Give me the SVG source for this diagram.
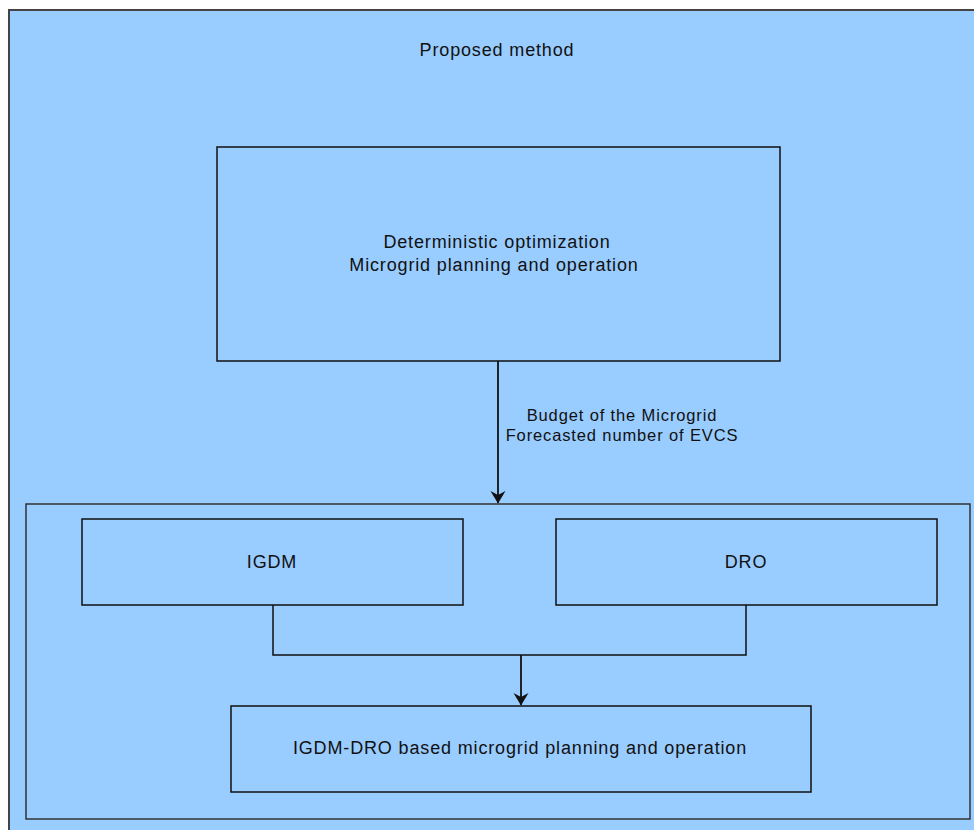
<svg xmlns="http://www.w3.org/2000/svg" width="974" height="830" viewBox="0 0 974 830">
<defs>
<style>
.box{fill:#99CCFF;stroke:#111;stroke-width:1.5}
.t{font-family:"Liberation Sans",Arial,sans-serif;font-size:18px;letter-spacing:0.85px;fill:#111;text-anchor:middle}
.l{font-size:16.5px;letter-spacing:0.87px}
.c{fill:none;stroke:#111;stroke-width:1.8}
</style>
<marker id="arr" markerWidth="16" markerHeight="14" refX="8" refY="13" orient="0" markerUnits="userSpaceOnUse" viewBox="0 0 16 14">
<path d="M0.5,1 L8,5 L15.5,1 L8,13.5 Z" fill="#111"/>
</marker>
</defs>
<rect width="974" height="830" fill="#ffffff"/>
<g id="outer">
<rect x="9" y="10" width="980" height="830" fill="#99CCFF" stroke="#444" stroke-width="2"/>
<text class="t" x="497" y="56">Proposed method</text>
</g>
<g id="container">
<rect x="26" y="504" width="944" height="315" fill="#99CCFF" stroke="#333" stroke-width="1.5"/>
</g>
<g id="deterministic">
<rect class="box" x="217" y="147" width="563" height="214"/>
<text class="t" x="497" y="248">Deterministic optimization</text>
<text class="t" x="494" y="271">Microgrid planning and operation</text>
</g>
<g id="igdm">
<rect class="box" x="82" y="519" width="381" height="86"/>
<text class="t" x="272" y="568">IGDM</text>
</g>
<g id="dro">
<rect class="box" x="556" y="519" width="381" height="86"/>
<text class="t" x="746" y="568">DRO</text>
</g>
<g id="result">
<rect class="box" x="231" y="706" width="580" height="86"/>
<text class="t" x="520" y="754">IGDM-DRO based microgrid planning and operation</text>
</g>
<g id="connectors">
<line class="c" x1="498" y1="361" x2="498" y2="503" marker-end="url(#arr)"/>
<polyline class="c" points="273,605 273,655 746,655 746,605" style="stroke-width:1.5"/>
<line class="c" x1="521" y1="655" x2="521" y2="705" marker-end="url(#arr)"/>
<text class="t l" x="622" y="421">Budget of the Microgrid</text>
<text class="t l" x="622" y="441">Forecasted number of EVCS</text>
</g>
</svg>
